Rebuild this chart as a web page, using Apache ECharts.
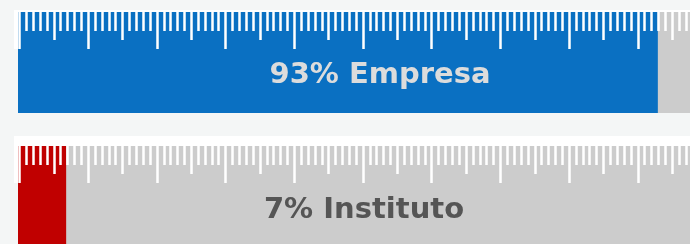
<!DOCTYPE html>
<html lang="es">
  <head>
    <meta charset="UTF-8" />
    <script src="https://cdn.jsdelivr.net/npm/echarts@6/dist/echarts.min.js"></script>
    <title>Empresa / Instituto</title>
    <style>
      html,
      body,
      #chart {
        width: 100%;
        height: 100%;
        margin: 0;
        padding: 0;
        overflow: hidden;
        background: #f4f6f6;
      }
    </style>
  </head>
  <body>
    <div id="chart"></div>
    <script>
      const categories = ["Empresa", "Instituto"];
      const shares = [93, 7];
      // ruler: a tick every unit, a longer one every 5, the longest every 10
      const rulerSteps = [1, 5, 10];

      const barColors = ["#0a70c2", "#c00000"];
      const textColors = ["#dcdcdc", "#555555"];
      const panelTops = [12, 146];
      const panelHeights = [101, 110];
      const cardTops = [10, 136];
      const tickLengths = [19, 28, 37];
      const labelPos = [
        [380, 75],
        [364, 210.5],
      ];

      const grids = [];
      const xAxes = [];
      const yAxes = [];
      const series = [];
      const graphics = [];

      // bar grids first (they run past the right edge of the picture)
      categories.forEach((name, i) => {
        grids.push({
          left: 18,
          top: panelTops[i],
          width: 688,
          height: panelHeights[i],
          outerBoundsMode: "none",
          containLabel: false,
        });
        xAxes.push({ gridIndex: i, type: "value", min: 0, max: 100, show: false });
        yAxes.push({ gridIndex: i, type: "category", data: [name], show: false });
        series.push({
          type: "bar",
          xAxisIndex: i,
          yAxisIndex: i,
          data: [shares[i]],
          barWidth: "100%",
          itemStyle: { color: barColors[i] },
          showBackground: true,
          backgroundStyle: { color: "#cccccc" },
          silent: true,
          z: 2,
        });
      });

      // ruler grids on top of the bars
      categories.forEach((name, i) => {
        const g = grids.length;
        grids.push({
          left: 19.5,
          top: panelTops[i],
          width: 687,
          height: 37,
          outerBoundsMode: "none",
          containLabel: false,
        });
        yAxes.push({ gridIndex: g, type: "value", min: 0, max: 1, show: false });
        rulerSteps.forEach((step, k) => {
          xAxes.push({
            gridIndex: g,
            type: "value",
            min: 0,
            max: 100,
            interval: step,
            position: "top",
            z: 5,
            axisLine: { show: false, onZero: false },
            axisLabel: { show: false },
            splitLine: { show: false },
            axisTick: {
              show: true,
              inside: true,
              length: tickLengths[k],
              lineStyle: { color: "#ffffff", width: 2.5 },
            },
          });
        });

        graphics.push({
          type: "rect",
          z: 0,
          shape: { x: 14, y: cardTops[i], width: 690, height: panelTops[i] + 37 - cardTops[i] },
          style: { fill: "#ffffff" },
        });
        graphics.push({
          type: "text",
          z: 100,
          x: labelPos[i][0],
          y: labelPos[i][1],
          style: {
            text: shares[i] + "% " + name,
            fill: textColors[i],
            font: "bold 29px 'DejaVu Sans'",
            align: "center",
            verticalAlign: "middle",
          },
        });
      });

      const chart = echarts.init(document.getElementById("chart"));
      chart.setOption({
        animation: false,
        backgroundColor: "#f4f6f6",
        grid: grids,
        xAxis: xAxes,
        yAxis: yAxes,
        series: series,
        graphic: graphics,
      });
    </script>
  </body>
</html>
